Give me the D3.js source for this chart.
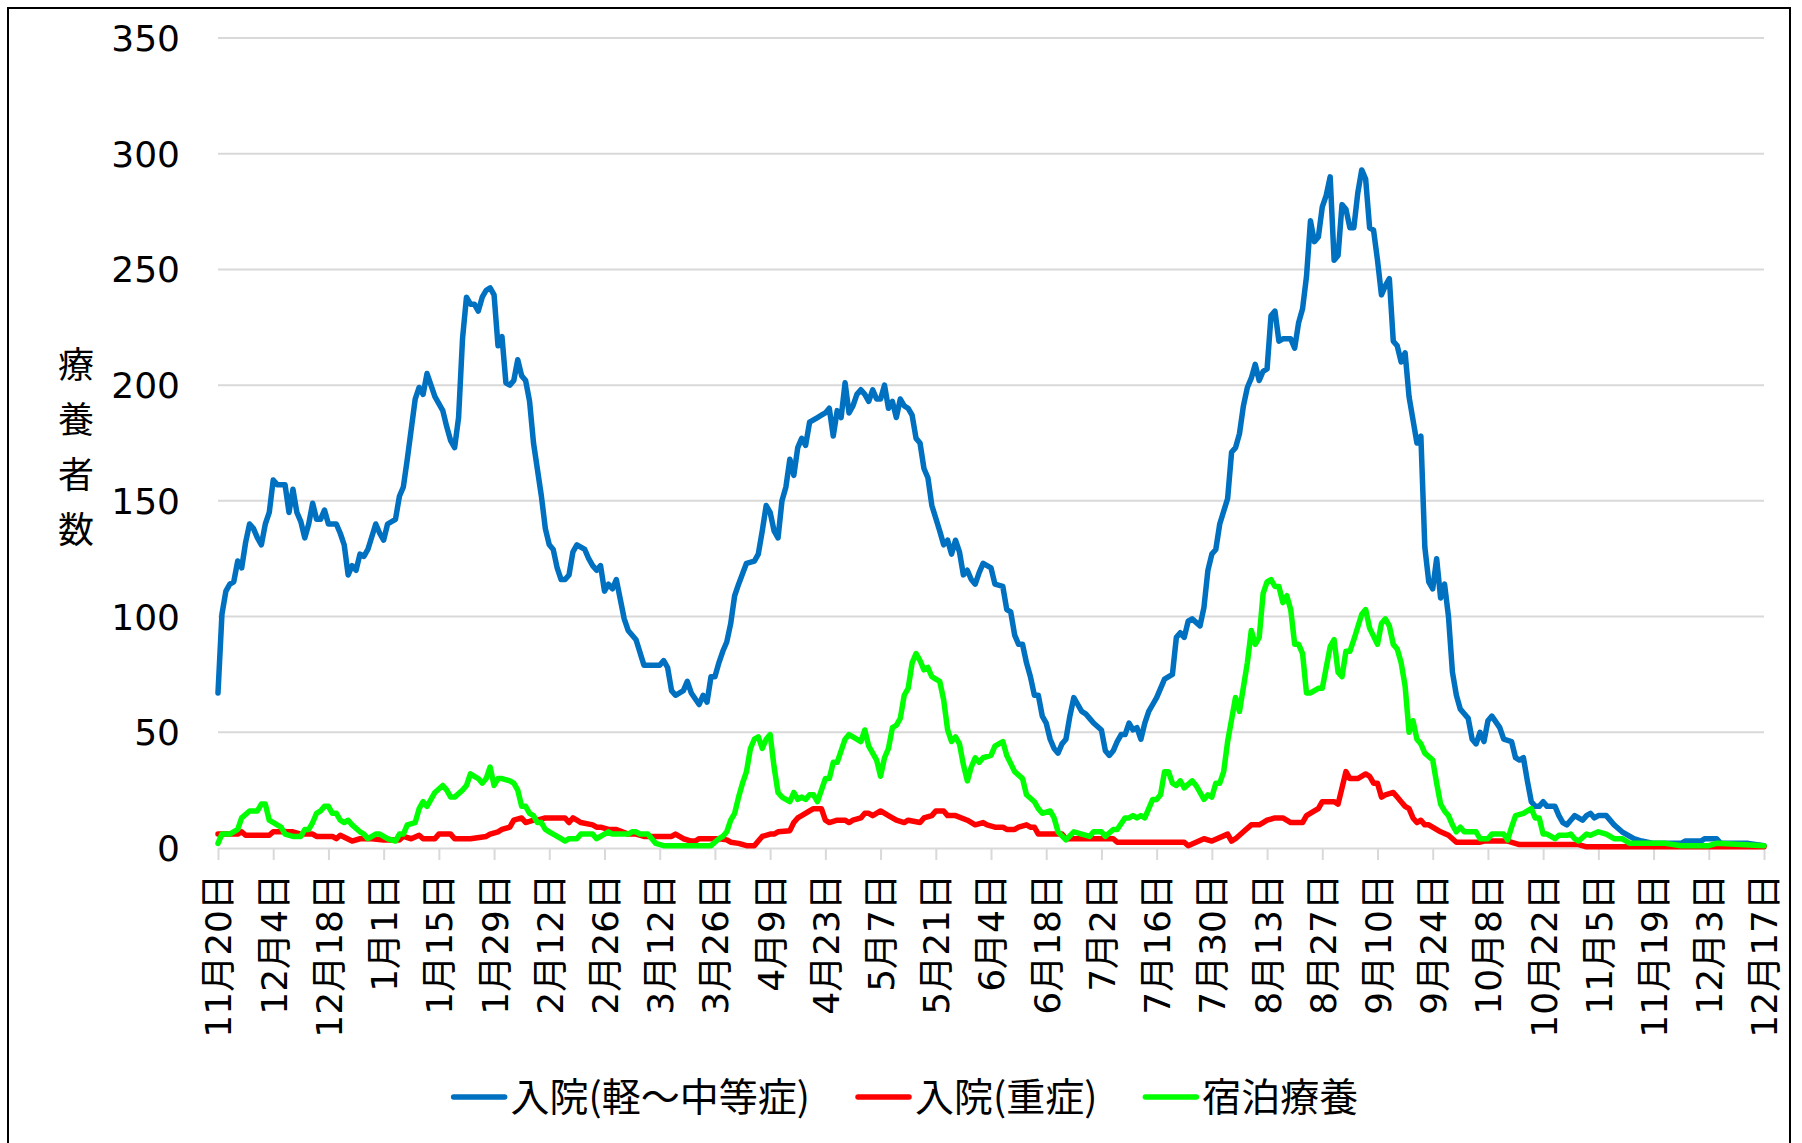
<!DOCTYPE html>
<html>
<head>
<meta charset="utf-8">
<script src="https://cdn.jsdelivr.net/npm/d3@7"></script>
<style>
    body { margin: 0; background: #fff; }
    svg { display: block; }
</style>
</head>
<body>
<script>
// day 0 = 2020-11-20, last day = 2021-12-17
const startDate = new Date(Date.UTC(2020, 10, 20));
const lastDay = 392;
const tickEvery = 14;
const yTicks = [0, 50, 100, 150, 200, 250, 300, 350];
const yTitle = ['療', '養', '者', '数'];
const seriesNames = ['入院(軽～中等症)', '入院(重症)', '宿泊療養'];

// [day, value]
const mild = [[0,67],[1,101],[2,111],[3,114],[4,115],[5,124],[6,121],[7,132],[8,140],[9,138],[10,134],[11,131],[12,140],[13,145],[14,159],[15,157],[17,157],[18,145],[19,155],[20,145],[21,141],[22,134],[23,140],[24,149],[25,142],[26,142],[27,146],[28,140],[30,140],[31,136],[32,131],[33,118],[34,122],[35,120],[36,127],[37,126],[38,129],[40,140],[41,136],[42,133],[43,140],[45,142],[46,152],[47,156],[48,168],[50,194],[51,199],[52,196],[53,205],[55,195],[56,192],[57,189],[58,182],[59,176],[60,173],[61,186],[62,220],[63,238],[64,235],[65,235],[66,232],[67,238],[68,241],[69,242],[70,239],[71,217],[72,221],[73,201],[74,200],[75,202],[76,211],[77,204],[78,202],[79,193],[80,175],[82,152],[83,138],[84,131],[85,129],[86,121],[87,116],[88,116],[89,118],[90,128],[91,131],[93,129],[94,125],[95,122],[96,120],[97,122],[98,111],[99,114],[100,112],[101,116],[103,99],[104,94],[106,90],[108,79],[112,79],[113,81],[114,78],[115,68],[116,66],[118,68],[119,72],[120,67],[122,62],[123,66],[124,63],[125,74],[126,74],[127,80],[128,85],[129,89],[130,97],[131,109],[132,114],[134,123],[136,124],[137,127],[138,137],[139,148],[140,145],[141,137],[142,134],[143,150],[144,156],[145,168],[146,161],[147,173],[148,177],[149,174],[150,184],[152,186],[153,187],[154,188],[155,190],[156,178],[157,189],[158,186],[159,201],[160,188],[161,191],[162,196],[163,198],[164,196],[165,193],[166,198],[167,194],[168,194],[169,200],[170,190],[171,193],[172,186],[173,194],[174,191],[175,190],[176,187],[177,177],[178,175],[179,164],[180,160],[181,148],[183,137],[184,131],[185,133],[186,127],[187,133],[188,128],[189,118],[190,120],[191,116],[192,114],[193,119],[194,123],[195,122],[196,121],[197,114],[199,113],[200,103],[201,102],[202,92],[203,88],[204,88],[205,80],[206,74],[207,66],[208,66],[209,57],[210,54],[211,47],[212,43],[213,41],[214,45],[215,47],[216,57],[217,65],[218,62],[219,59],[220,58],[221,56],[222,54],[224,51],[225,42],[226,40],[227,42],[228,46],[229,49],[230,49],[231,54],[232,51],[233,52],[234,47],[235,54],[236,59],[237,62],[238,65],[239,69],[240,73],[242,75],[243,91],[244,93],[245,91],[246,98],[247,99],[249,96],[250,104],[251,120],[252,127],[253,129],[254,140],[256,151],[257,171],[258,173],[259,179],[260,191],[261,199],[262,203],[263,209],[264,202],[265,206],[266,207],[267,230],[268,232],[269,219],[270,220],[272,220],[273,216],[274,227],[275,233],[276,247],[277,271],[278,262],[279,264],[280,277],[281,282],[282,290],[283,254],[284,256],[285,278],[286,276],[287,268],[288,268],[289,283],[290,293],[291,289],[292,268],[293,267],[294,254],[295,239],[296,243],[297,246],[298,219],[299,217],[300,210],[301,214],[302,195],[303,185],[304,175],[305,178],[306,130],[307,115],[308,112],[309,125],[310,108],[311,114],[312,100],[313,76],[314,66],[315,60],[316,58],[317,56],[318,47],[319,45],[320,50],[321,46],[322,55],[323,57],[325,52],[326,47],[328,46],[329,39],[330,38],[331,39],[332,29],[333,20],[334,18],[335,18],[336,20],[337,18],[339,18],[340,14],[341,11],[342,10],[343,12],[344,14],[346,12],[347,14],[348,15],[349,13],[350,14],[352,14],[354,10],[356,7],[358,5],[359,4],[361,3],[364,2],[371,2],[372,3],[376,3],[377,4],[380,4],[381,2],[388,2],[392,1]];

const severe = [[0,6],[5,6],[6,7],[7,5.5],[13,5.5],[14,7],[19,7],[21,6],[24,6],[25,5],[29,5],[30,4],[31,5.5],[34,3],[36,4],[39,4],[42,3.5],[46,3.5],[47,5],[49,4],[51,5.5],[52,4],[55,4],[56,6],[59,6],[60,4],[64,4],[68,5],[69,6],[71,7],[72,8],[74,9],[75,12],[77,13],[78,11],[80,12],[81,12],[83,13],[88,13],[89,11],[90,13],[91,12],[92,11],[95,10],[96,9],[97,9],[99,8],[101,8],[104,6],[106,6],[108,5],[115,5],[116,6],[117,5],[118,4],[120,3],[121,3],[122,4],[127,4],[129,3.5],[130,2.5],[132,2],[134,1],[136,1],[137,3],[138,5],[140,6],[141,6],[142,7],[145,7.5],[146,11],[147,13],[148,14],[150,16],[151,17],[153,17],[154,12],[155,11],[157,12],[159,12],[160,11],[161,12],[163,13],[164,15],[165,15],[166,14],[168,16],[170,14],[172,12],[174,11],[175,12],[178,11],[179,13],[181,14],[182,16],[184,16],[185,14],[187,14],[190,12],[192,10],[194,11],[195,10],[197,9],[199,9],[200,8],[202,8],[203,9],[205,10],[206,9],[207,9],[208,6],[214,6],[215,4],[227,4],[228,2.5],[245,2.5],[246,1],[248,2.5],[250,4],[252,3],[256,6],[257,3],[258,4],[260,7],[262,10],[264,10],[265,11],[266,12],[268,13],[269,13],[270,13],[272,11],[273,11],[275,11],[276,14],[278,16],[279,17],[280,20],[283,20],[284,19],[285,26],[286,33],[287,30],[289,30],[291,32],[292,31],[293,28],[294,28],[295,22],[296,23],[298,24],[299,22],[300,20],[301,18],[302,17],[303,13],[304,11],[305,12],[306,10],[307,10],[310,7],[312,5.5],[313,4],[314,2.5],[320,2.5],[321,3],[327,3],[330,1.5],[345,1.5],[347,0.5],[392,0.5]];

const hotel = [[0,2],[1,6],[3,6],[5,8],[6,13],[8,16],[10,16],[11,19],[12,19],[13,12],[15,10],[16,9],[17,6],[19,5],[21,5],[22,8],[23,8],[24,11],[25,15],[26,16],[27,18],[28,18],[29,15],[30,15],[31,12],[32,11],[33,12],[34,10],[36,7],[37,6],[38,4],[40,6],[41,6],[43,4],[45,3],[46,6],[47,6],[48,10],[50,11],[51,17],[52,20],[53,18],[55,24],[57,27],[58,25],[59,22],[60,22],[62,25],[63,27],[64,32],[65,31],[66,30],[67,28],[68,30],[69,35],[70,27],[71,30],[72,30],[74,29],[75,28],[76,25],[77,18],[78,18],[79,15],[80,14],[81,11],[82,11],[83,8],[84,7],[85,6],[87,4],[88,3],[89,4],[91,4],[92,6],[95,6],[96,4],[99,7],[100,6],[104,6],[105,7],[106,7],[107,6],[109,6],[110,4],[111,2],[113,1],[125,1],[127,4],[128,5],[129,7],[130,12],[131,15],[132,22],[133,28],[134,33],[135,43],[136,47],[137,48],[138,43],[139,47],[140,49],[141,35],[142,24],[143,22],[145,20],[146,24],[147,21],[148,22],[149,21],[150,23],[151,23],[152,20],[153,25],[154,30],[155,30],[156,37],[157,37],[159,47],[160,49],[161,48],[163,46],[164,51],[165,44],[167,38],[168,31],[169,39],[170,43],[171,52],[172,53],[173,56],[174,66],[175,69],[176,80],[177,84],[178,81],[179,77],[180,78],[181,74],[182,73],[183,72],[184,64],[185,51],[186,46],[187,48],[188,45],[189,36],[190,29],[191,35],[192,39],[193,37],[194,39],[196,40],[197,44],[199,46],[200,40],[202,33],[204,30],[205,23],[207,20],[208,17],[209,15],[211,16],[212,13],[213,7],[215,3.5],[217,7],[219,6],[221,5],[222,7],[224,7],[225,5],[227,8],[228,8],[230,13],[231,13],[232,14],[233,13],[234,14],[235,13],[236,17],[237,21],[238,21],[239,23],[240,33],[241,33],[242,28],[243,27],[244,29],[245,26],[247,29],[248,27],[249,24],[250,21],[251,23],[252,22],[253,28],[254,28],[255,33],[256,46],[258,65],[259,59],[261,80],[262,94],[263,88],[264,91],[265,110],[266,115],[267,116],[268,113],[269,113],[270,106],[271,109],[272,103],[273,88],[274,88],[275,84],[276,67],[277,67],[279,69],[280,69],[281,78],[282,87],[283,90],[284,76],[285,74],[286,85],[287,85],[288,90],[290,101],[291,103],[292,95],[294,88],[295,97],[296,99],[297,96],[298,88],[299,86],[300,80],[301,70],[302,50],[303,55],[304,47],[305,45],[306,41],[308,38],[309,28],[310,19],[311,16],[312,14],[313,10],[314,7],[315,9],[316,7],[319,7],[320,4],[322,4],[323,6],[326,6],[327,3.5],[328,9],[329,14],[331,15],[333,17],[334,13],[335,13],[336,6],[337,6],[339,4],[340,5.5],[342,5.5],[343,6],[344,4],[345,3],[347,6],[348,5.5],[350,7],[352,6],[354,4],[356,4],[358,2],[367,2],[371,1],[378,1],[380,2],[392,1]];

const colors = ['#0070C0', '#FF0000', '#00FF00'];
const numFont = '"DejaVu Sans", "Noto Sans CJK JP", sans-serif';
const jpFont = '"Noto Sans CJK JP", sans-serif';

const W = 1802, H = 1143;
const plotLeft = 218, plotRight = 1764, plotTop = 38, plotBottom = 848;

const svg = d3.select('body').append('svg')
    .attr('width', W)
    .attr('height', H);

svg.append('rect')
    .attr('x', 8).attr('y', 8)
    .attr('width', 1782).attr('height', 1160)
    .attr('fill', '#fff')
    .attr('stroke', '#000')
    .attr('stroke-width', 2);

const day = d => d3.utcDay.offset(startDate, d);
const x = d3.scaleUtc()
    .domain([startDate, day(lastDay)])
    .range([plotLeft, plotRight]);
const y = d3.scaleLinear()
    .domain([0, 350])
    .range([plotBottom, plotTop]);

// grid
svg.append('g').attr('class', 'y-grid')
    .selectAll('line')
    .data(yTicks.filter(v => v > 0))
    .join('line')
        .attr('x1', plotLeft).attr('x2', plotRight)
        .attr('y1', d => y(d)).attr('y2', d => y(d))
        .attr('stroke', '#d9d9d9')
        .attr('stroke-width', 2);

// y labels
svg.append('g').attr('class', 'y-axis')
    .selectAll('text')
    .data(yTicks)
    .join('text')
        .attr('x', 180)
        .attr('y', d => y(d))
        .attr('dy', '0.36em')
        .attr('text-anchor', 'end')
        .style('font-family', numFont)
        .style('font-size', '36px')
        .text(d => d);

// x axis
const tickDates = d3.range(0, lastDay + 1, tickEvery).map(day);
const xAxis = d3.axisBottom(x)
    .tickValues(tickDates)
    .tickSize(12)
    .tickSizeOuter(0)
    .tickFormat(d3.utcFormat('%-m月%-d日'));
const gx = svg.append('g').attr('class', 'x-axis')
    .attr('transform', `translate(0,${plotBottom})`)
    .call(xAxis);
gx.select('.domain').attr('stroke', '#d9d9d9').attr('stroke-width', 2);
gx.selectAll('.tick line').attr('stroke', '#d9d9d9').attr('stroke-width', 2);
gx.selectAll('.tick text')
    .attr('transform', 'rotate(-90)')
    .attr('x', -26)
    .attr('y', 0)
    .attr('dy', '0.36em')
    .attr('text-anchor', 'end')
    .attr('fill', '#000')
    .style('font-family', numFont)
    .style('font-size', '36px');

// y title, one character per row
svg.append('g').attr('class', 'y-title')
    .selectAll('text')
    .data(yTitle)
    .join('text')
        .attr('x', 76)
        .attr('y', (d, i) => 365 + i * 55)
        .attr('dy', '0.36em')
        .attr('text-anchor', 'middle')
        .style('font-family', jpFont)
        .style('font-size', '36px')
        .text(d => d);

// lines (blue, red, then green on top)
const line = d3.line()
    .x(d => x(day(d[0])))
    .y(d => y(d[1]));
svg.append('g').attr('class', 'lines')
    .selectAll('path')
    .data([mild, severe, hotel])
    .join('path')
        .attr('d', line)
        .attr('fill', 'none')
        .attr('stroke', (d, i) => colors[i])
        .attr('stroke-width', 5.5)
        .attr('stroke-linejoin', 'round')
        .attr('stroke-linecap', 'round');

// legend
const legendY = 1097, swatch = 51, swatchGap = 6, itemGap = 48;
const legend = svg.append('g').attr('class', 'legend');
const items = legend.selectAll('g')
    .data(seriesNames)
    .join('g');
items.append('line')
    .attr('x1', 0).attr('x2', swatch)
    .attr('y1', legendY).attr('y2', legendY)
    .attr('stroke', (d, i) => colors[i])
    .attr('stroke-width', 5.5)
    .attr('stroke-linecap', 'round');
items.append('text')
    .attr('x', swatch + swatchGap)
    .attr('y', legendY)
    .attr('dy', '0.36em')
    .style('font-family', jpFont)
    .style('font-size', '39px')
    .text(d => d);
let widths = items.nodes().map(n => swatch + swatchGap + d3.select(n).select('text').node().getComputedTextLength());
let total = d3.sum(widths) + itemGap * (widths.length - 1);
let cursor = 906 - total / 2;
items.attr('transform', (d, i) => {
    let t = `translate(${cursor},0)`;
    cursor += widths[i] + itemGap;
    return t;
});
</script>
</body>
</html>
